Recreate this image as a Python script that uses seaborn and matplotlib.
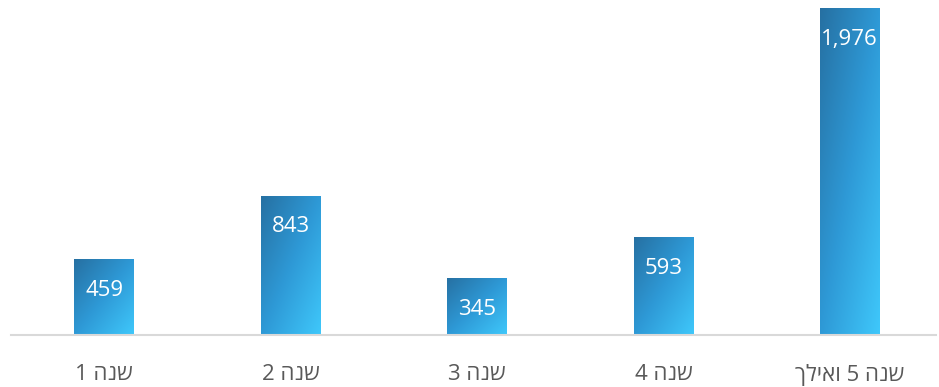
import numpy as np
import pandas as pd
import matplotlib
matplotlib.use("Agg")
import matplotlib.pyplot as plt
from matplotlib.colors import LinearSegmentedColormap
import seaborn as sns

categories = ["שנה 1", "שנה 2", "שנה 3", "שנה 4", "שנה 5 ואילך"]
values = [459, 843, 345, 593, 1976]
value_labels = ["459", "843", "345", "593", "1,976"]


def visual_order(text):
    """Reorder a right-to-left Hebrew label for left-to-right glyph drawing."""
    tokens = text.split(" ")
    out = []
    for tok in reversed(tokens):
        if any("\u0590" <= ch <= "\u05ff" for ch in tok):
            out.append(tok[::-1])
        else:
            out.append(tok)
    return " ".join(out)


sns.set_theme(style="white")
plt.rcParams["font.family"] = ["Open Sans", "DejaVu Sans"]

df = pd.DataFrame({"category": categories, "value": values})

fig = plt.figure(figsize=(9.39, 3.87), dpi=100)
ax = fig.add_axes([11 / 939, 1 - 335 / 387, 925 / 939, 335 / 387])

sns.barplot(data=df, x="category", y="value", ax=ax, width=0.32,
            color="#2f9ad6", edgecolor="none")

XMAX = -0.5 + 925 / 186.4
YMAX = 2025

# diagonal gradient fill (dark top-left -> light bottom-right)
cmap = LinearSegmentedColormap.from_list("bar_grad", ["#2670a2", "#2e99d6", "#3fc8fb"])
gy, gx = np.mgrid[0:1:200j, 0:1:200j]
grad = 0.5 * gx + 0.5 * gy
for patch in ax.patches:
    x0, y0 = patch.get_x(), patch.get_y()
    w, h = patch.get_width(), patch.get_height()
    im = ax.imshow(grad, cmap=cmap, extent=(x0, x0 + w, y0, y0 + h),
                   origin="upper", aspect="auto", zorder=patch.get_zorder() + 0.1,
                   interpolation="bilinear")
    im.set_clip_path(patch)
    patch.set_facecolor("none")

ax.set_xlim(-0.5, XMAX)
ax.set_ylim(0, YMAX)

# value labels inside the top of each bar
for i, (v, lab) in enumerate(zip(values, value_labels)):
    ax.annotate(lab, xy=(i, v), xytext=(0, -22.5), textcoords="offset points",
                ha="center", va="center", color="white", fontsize=16, zorder=5)

ax.set_xticks(range(len(categories)))
ax.set_xticklabels([visual_order(c) for c in categories], fontsize=16, color="#595959")
ax.tick_params(axis="x", length=0, pad=21)
ax.set_yticks([])
ax.set_xlabel("")
ax.set_ylabel("")
for side in ["top", "left", "right"]:
    ax.spines[side].set_visible(False)
ax.spines["bottom"].set_color("#d9d9d9")
ax.spines["bottom"].set_linewidth(1.5)

fig.savefig("out.png", dpi=100)
